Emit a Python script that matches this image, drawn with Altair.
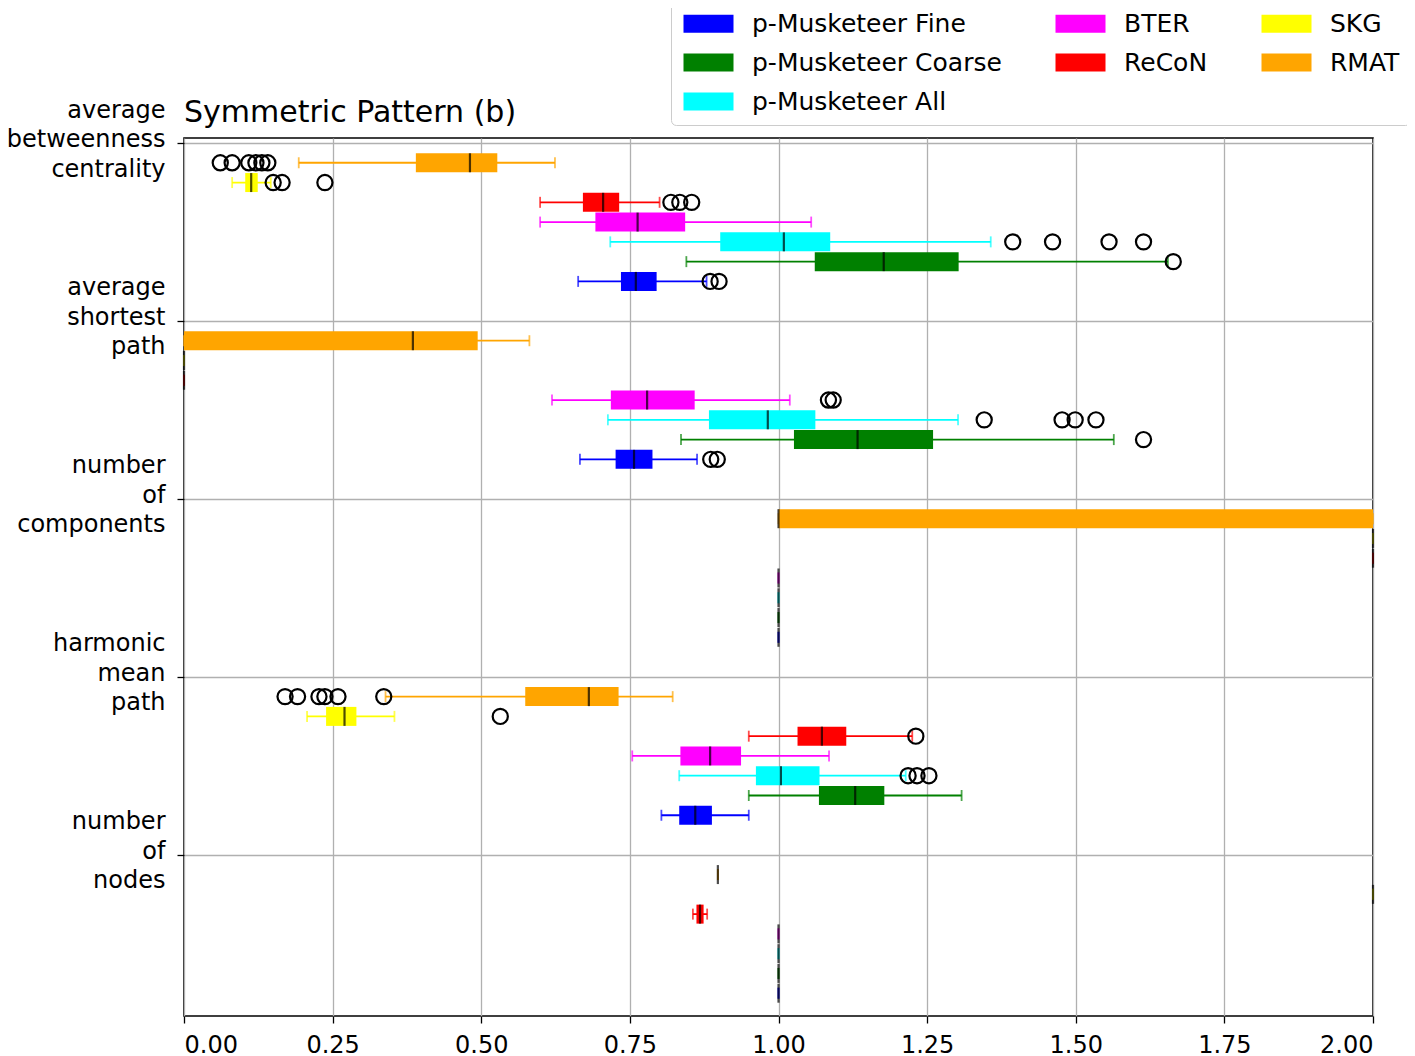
import json
import altair as alt
import pandas as pd

FONT = "DejaVu Sans"

# ---------------- data ----------------
metrics = [
    ["average", "betweenness", "centrality"],
    ["average", "shortest", "path"],
    ["number", "of", "components"],
    ["harmonic", "mean", "path"],
    ["number", "of", "nodes"],
]
# slot order from top to bottom inside each metric group
methods = ["RMAT", "SKG", "ReCoN", "BTER",
           "p-Musketeer All", "p-Musketeer Coarse", "p-Musketeer Fine"]
method_colors = ["#ffa500", "#ffff00", "#ff0000", "#ff00ff",
                 "#00ffff", "#008000", "#0000ff"]

whisker_lo = [
    [0.193, 0.081, 0.599, 0.599, 0.717, 0.845, 0.663],
    [0.000, 0.000, 0.000, 0.619, 0.713, 0.836, 0.666],
    [1.000, 2.000, 2.000, 1.000, 1.000, 1.000, 1.000],
    [0.339, 0.207, 0.950, 0.754, 0.833, 0.950, 0.803],
    [0.898, 2.000, 0.856, 1.000, 1.000, 1.000, 1.000],
]
box_q1 = [
    [0.390, 0.103, 0.671, 0.692, 0.902, 1.061, 0.735],
    [0.000, 0.000, 0.000, 0.718, 0.883, 1.026, 0.726],
    [1.000, 2.000, 2.000, 1.000, 1.000, 1.000, 1.000],
    [0.574, 0.239, 1.032, 0.835, 0.962, 1.068, 0.833],
    [0.898, 2.000, 0.862, 1.000, 1.000, 1.000, 1.000],
]
median = [
    [0.481, 0.113, 0.705, 0.763, 1.009, 1.177, 0.760],
    [0.385, 0.000, 0.000, 0.779, 0.982, 1.133, 0.757],
    [1.000, 2.000, 2.000, 1.000, 1.000, 1.000, 1.000],
    [0.681, 0.270, 1.073, 0.885, 1.004, 1.129, 0.860],
    [0.898, 2.000, 0.868, 1.000, 1.000, 1.000, 1.000],
]
box_q3 = [
    [0.527, 0.124, 0.732, 0.843, 1.087, 1.303, 0.795],
    [0.494, 0.000, 0.000, 0.859, 1.062, 1.260, 0.788],
    [2.000, 2.000, 2.000, 1.000, 1.000, 1.000, 1.000],
    [0.731, 0.290, 1.114, 0.937, 1.069, 1.178, 0.888],
    [0.898, 2.000, 0.874, 1.000, 1.000, 1.000, 1.000],
]
whisker_hi = [
    [0.624, 0.146, 0.800, 1.055, 1.357, 1.655, 0.879],
    [0.581, 0.000, 0.000, 1.019, 1.302, 1.564, 0.863],
    [2.000, 2.000, 2.000, 1.000, 1.000, 1.000, 1.000],
    [0.822, 0.354, 1.225, 1.085, 1.214, 1.308, 0.950],
    [0.898, 2.000, 0.880, 1.000, 1.000, 1.000, 1.000],
]
outliers = [
    [[0.061, 0.081, 0.109, 0.121, 0.131, 0.141], [0.150, 0.165, 0.237],
     [0.819, 0.834, 0.854], [], [1.394, 1.461, 1.556, 1.614], [1.664], [0.885, 0.900]],
    [[], [], [], [1.084, 1.092], [1.346, 1.477, 1.499, 1.534], [1.614], [0.886, 0.897]],
    [[], [], [], [], [], [], []],
    [[0.170, 0.191, 0.227, 0.237, 0.259, 0.336], [0.532], [1.231], [],
     [1.218, 1.233, 1.253], [], []],
    [[], [], [], [], [], [], []],
]

# legend entries, read row by row (3 columns, as in the reference)
legend_order = ["p-Musketeer Fine", "BTER", "SKG",
                "p-Musketeer Coarse", "ReCoN", "RMAT",
                "p-Musketeer All"]
x_ticks = [0.0, 0.25, 0.5, 0.75, 1.0, 1.25, 1.5, 1.75, 2.0]

# ---------------- tables ----------------
GROUP = 9
rows, orows = [], []
for i in range(len(metrics)):
    for j, meth in enumerate(methods):
        pos = i * GROUP + j + 1
        rows.append(dict(method=meth, pos=pos, lo=whisker_lo[i][j], q1=box_q1[i][j],
                         med=median[i][j], q3=box_q3[i][j], hi=whisker_hi[i][j]))
        for v in outliers[i][j]:
            orows.append(dict(method=meth, pos=pos, value=v))
box_df = pd.DataFrame(rows)
out_df = pd.DataFrame(orows)

color_of = dict(zip(methods, method_colors))
legend_colors = [color_of[m] for m in legend_order]

tick_vals = [i * GROUP for i in range(len(metrics))]
expr = "''"
for v, lab in reversed(list(zip(tick_vals, metrics))):
    expr = f"datum.value == {v} ? {json.dumps(lab)} : ({expr})"

def Y():
    return alt.Y("pos:Q",
                 scale=alt.Scale(domain=[0, 43.9], reverse=True, nice=False, zero=False),
                 axis=alt.Axis(values=tick_vals, labelExpr=expr, title=None,
                               tickSize=7, labelPadding=12, labelLineHeight=29.5,
                               labelBaseline="middle", labelAlign="right",
                               labelOffset=-33, labelFontSize=24),
                 title=None)

def X(field):
    return alt.X(f"{field}:Q",
                 scale=alt.Scale(domain=[0, 2], nice=False, zero=False),
                 axis=alt.Axis(values=x_ticks, format=".2f", title=None,
                               tickSize=7, labelPadding=10),
                 title=None)

# the legend scale (legend order) and the line scale (slot order) map the same colours
legend_scale = alt.Scale(domain=legend_order, range=legend_colors)
line_scale = alt.Scale(domain=methods, range=method_colors)

base = alt.Chart(box_df)

whisker = base.mark_rule(strokeWidth=1.8).encode(
    x=X("lo"), x2="hi:Q", y=Y(),
    stroke=alt.Stroke("method:N", scale=line_scale, legend=None))
cap_lo = base.mark_tick(orient="vertical", size=11, thickness=1.8).encode(
    x=X("lo"), y=Y(), fill=alt.Fill("method:N", scale=line_scale, legend=None))
cap_hi = base.mark_tick(orient="vertical", size=11, thickness=1.8).encode(
    x=X("hi"), y=Y(), fill=alt.Fill("method:N", scale=line_scale, legend=None))
box = base.mark_bar(size=19, orient="horizontal").encode(
    x=X("q1"), x2="q3:Q", y=Y(),
    color=alt.Color("method:N", scale=legend_scale,
                    legend=alt.Legend(title=None, orient="none", legendX=487, legendY=-137,
                                      values=legend_order, columns=3, direction="horizontal",
                                      symbolType="M-2.5,-0.9H2.5V0.9H-2.5Z",
                                      symbolSize=400, symbolOffset=15,
                                      symbolStrokeWidth=0, symbolOpacity=1,
                                      labelFontSize=25, labelFont=FONT, labelColor="black",
                                      labelOffset=31, labelLimit=500, columnPadding=51,
                                      rowPadding=13, padding=10, strokeColor="#cccccc",
                                      fillColor="white", cornerRadius=5)))
med = base.mark_tick(orient="vertical", size=19, thickness=2.2, color="black").encode(
    x=X("med"), y=Y())
pts = alt.Chart(out_df).mark_point(shape="circle", filled=False, size=230,
                                   strokeWidth=2.2, color="black", opacity=1).encode(
    x=X("value"), y=Y())

chart = alt.layer(whisker, cap_lo, cap_hi, box, med, pts).properties(
    width=1189, height=878,
    padding={"left": 176, "top": 130, "right": 34, "bottom": 60},
    autosize=alt.AutoSizeParams(type="none"),
    title=alt.TitleParams("Symmetric Pattern (b)", anchor="start", fontSize=30, font=FONT,
                          fontWeight="normal", offset=5, dy=132, color="black", frame="group"),
).configure_view(stroke="black", strokeWidth=1.6).configure_axis(
    grid=True, gridColor="#b0b0b0", gridWidth=1.3, domain=False,
    tickColor="black", tickWidth=1.3, labelFont=FONT, labelFontSize=24, labelColor="black")

chart.save("out.html", embed_options={"renderer": "svg", "actions": False})
